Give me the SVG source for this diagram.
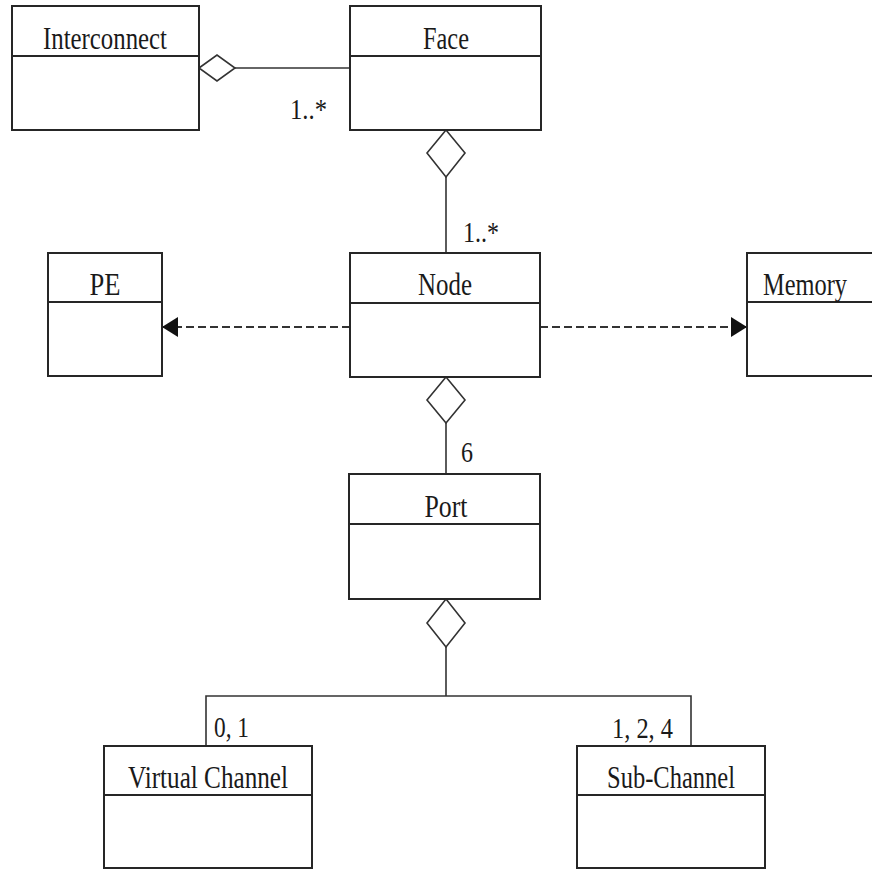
<svg xmlns="http://www.w3.org/2000/svg" width="872" height="871" viewBox="0 0 872 871">
  <style>
    .box { fill: #ffffff; stroke: #262626; stroke-width: 2; }
    .sep { stroke: #262626; stroke-width: 2; }
    .name { font-family: "Liberation Serif", "Times New Roman", serif; font-size: 31px; fill: #1a1a1a; text-anchor: middle; }
    .mult { font-family: "Liberation Serif", "Times New Roman", serif; font-size: 30px; fill: #1a1a1a; }
    .line { fill: none; stroke: #333333; stroke-width: 1.6; }
    .dash { fill: none; stroke: #333333; stroke-width: 2; stroke-dasharray: 8 4; }
    .agg { fill: #ffffff; stroke: #333333; stroke-width: 1.6; }
  </style>
  <defs>
    <marker id="dep" viewBox="0 0 16 20" refX="16" refY="10" markerWidth="16" markerHeight="20" markerUnits="userSpaceOnUse" orient="auto">
      <path d="M0,0 L16,10 L0,20 Z" fill="#111111"/>
    </marker>
  </defs>
  <rect width="872" height="871" fill="#ffffff"/>

  <!-- connectors -->
  <g id="connectors">
    <!-- Interconnect aggregates Face -->
    <line class="line" x1="235" y1="68" x2="350" y2="68"/>
    <polygon class="agg" points="199,68 217,55 235,68 217,81"/>
    <text class="mult" x="290" y="119" textLength="37" lengthAdjust="spacingAndGlyphs">1..*</text>

    <!-- Face aggregates Node -->
    <line class="line" x1="446" y1="177" x2="446" y2="253"/>
    <polygon class="agg" points="446,130 465,153 446,177 427,153"/>
    <text class="mult" x="463" y="242" textLength="36" lengthAdjust="spacingAndGlyphs">1..*</text>

    <!-- Node depends on PE and Memory -->
    <line class="dash" x1="350" y1="327" x2="162" y2="327" marker-end="url(#dep)"/>
    <line class="dash" x1="540" y1="327" x2="747" y2="327" marker-end="url(#dep)"/>

    <!-- Node aggregates Port -->
    <line class="line" x1="446" y1="423" x2="446" y2="474"/>
    <polygon class="agg" points="446,377 465,400 446,423 427,400"/>
    <text class="mult" x="461" y="462" textLength="12" lengthAdjust="spacingAndGlyphs">6</text>

    <!-- Port aggregates Virtual Channel and Sub-Channel -->
    <polyline class="line" points="446,647 446,696"/>
    <polyline class="line" points="206,746 206,696 691,696 691,746"/>
    <polygon class="agg" points="446,599 465,623 446,647 427,623"/>
    <text class="mult" x="214" y="737" textLength="35" lengthAdjust="spacingAndGlyphs">0, 1</text>
    <text class="mult" x="612" y="738" textLength="61" lengthAdjust="spacingAndGlyphs">1, 2, 4</text>
  </g>

  <g id="interconnect">
    <rect class="box" x="12" y="6" width="187" height="124"/>
    <line class="sep" x1="12" y1="56" x2="199" y2="56"/>
    <text class="name" x="105" y="49" textLength="124" lengthAdjust="spacingAndGlyphs">Interconnect</text>
  </g>

  <g id="face">
    <rect class="box" x="350" y="6" width="191" height="124"/>
    <line class="sep" x1="350" y1="56" x2="541" y2="56"/>
    <text class="name" x="446" y="49" textLength="46" lengthAdjust="spacingAndGlyphs">Face</text>
  </g>

  <g id="node">
    <rect class="box" x="350" y="253" width="190" height="124"/>
    <line class="sep" x1="350" y1="303" x2="540" y2="303"/>
    <text class="name" x="445" y="295" textLength="54" lengthAdjust="spacingAndGlyphs">Node</text>
  </g>

  <g id="pe">
    <rect class="box" x="48" y="253" width="114" height="123"/>
    <line class="sep" x1="48" y1="302" x2="162" y2="302"/>
    <text class="name" x="105" y="295" textLength="31" lengthAdjust="spacingAndGlyphs">PE</text>
  </g>

  <g id="memory">
    <rect class="box" x="747" y="253" width="140" height="123"/>
    <line class="sep" x1="747" y1="302" x2="887" y2="302"/>
    <text class="name" x="805" y="295" textLength="84" lengthAdjust="spacingAndGlyphs">Memory</text>
  </g>

  <g id="port">
    <rect class="box" x="349" y="474" width="191" height="125"/>
    <line class="sep" x1="349" y1="524" x2="540" y2="524"/>
    <text class="name" x="446" y="517" textLength="43" lengthAdjust="spacingAndGlyphs">Port</text>
  </g>

  <g id="virtual-channel">
    <rect class="box" x="104" y="746" width="208" height="122"/>
    <line class="sep" x1="104" y1="795" x2="312" y2="795"/>
    <text class="name" x="208" y="788" textLength="160" lengthAdjust="spacingAndGlyphs">Virtual Channel</text>
  </g>

  <g id="sub-channel">
    <rect class="box" x="577" y="746" width="188" height="122"/>
    <line class="sep" x1="577" y1="795" x2="765" y2="795"/>
    <text class="name" x="671" y="788" textLength="128" lengthAdjust="spacingAndGlyphs">Sub-Channel</text>
  </g>
</svg>
